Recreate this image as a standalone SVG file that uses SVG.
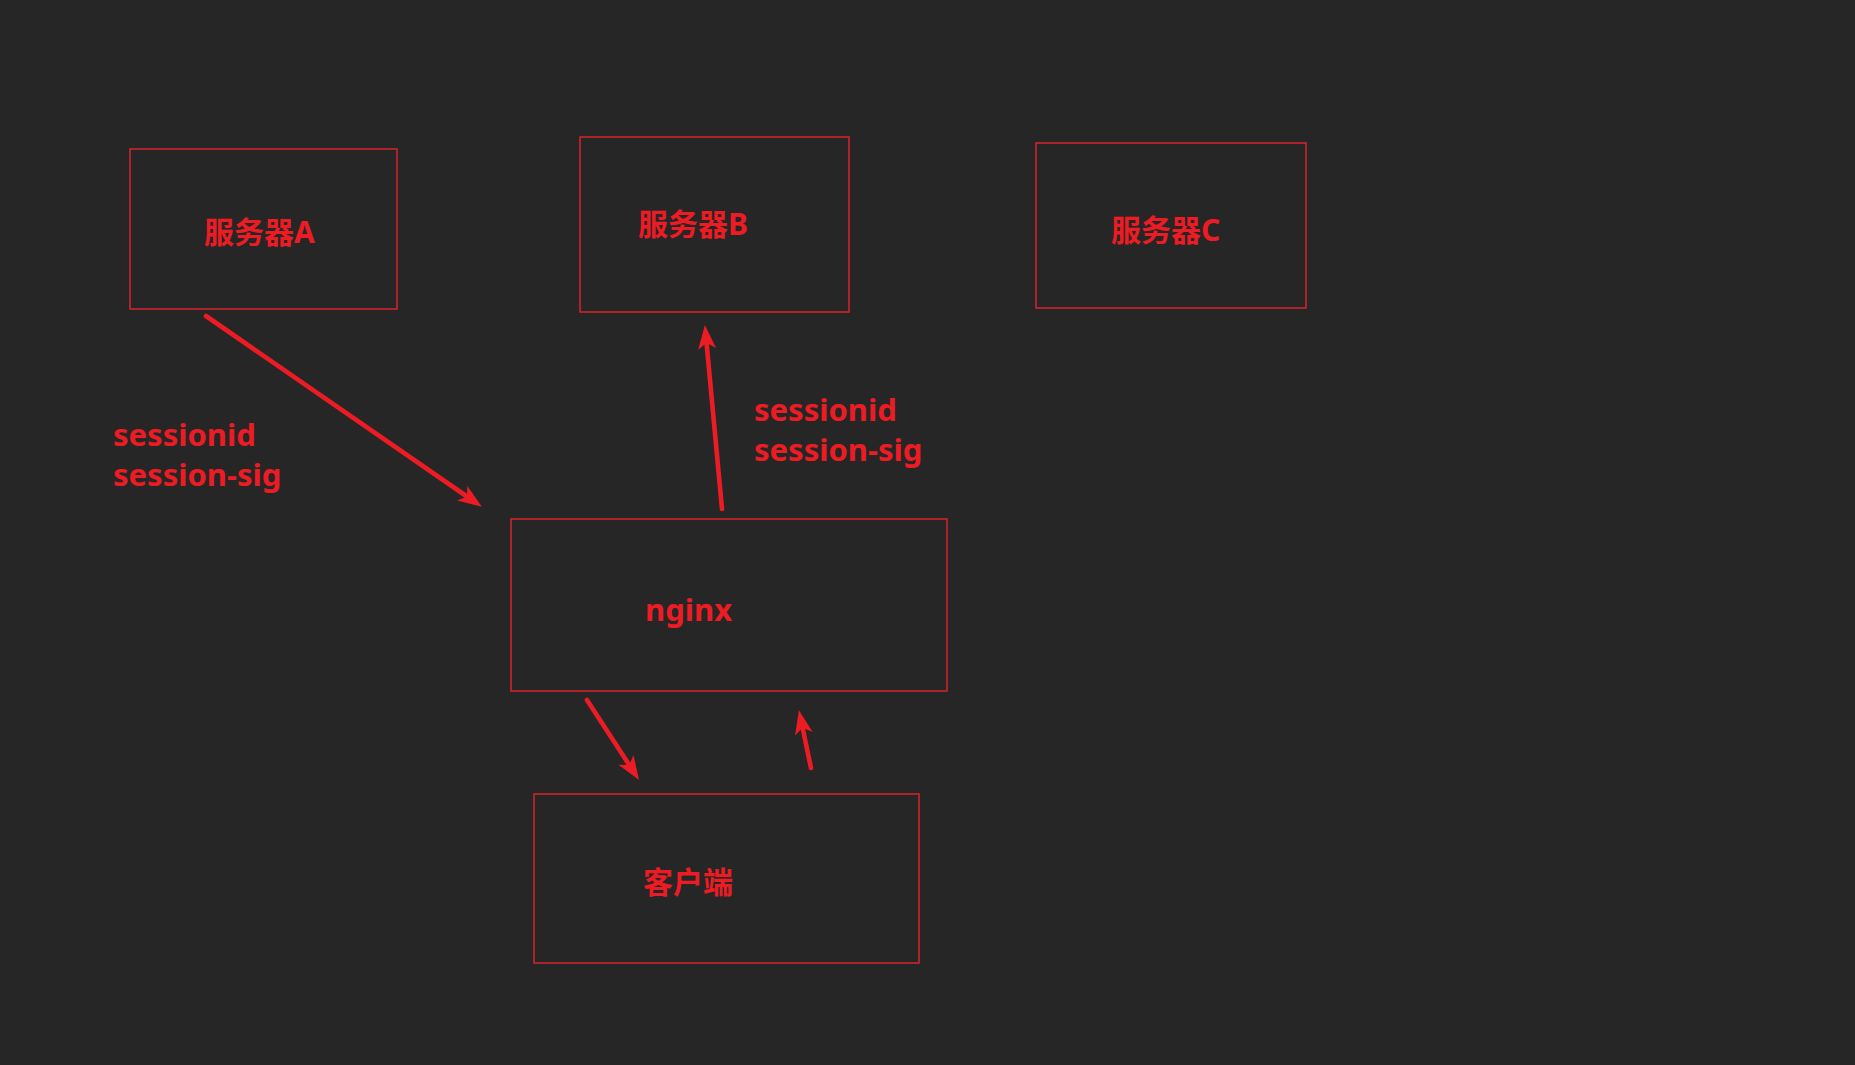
<svg xmlns="http://www.w3.org/2000/svg" width="1855" height="1065" viewBox="0 0 1855 1065">
<defs>
<style>
.box{fill:none;stroke:#e3242b;stroke-width:1.4}
.lbl{fill:#ec1c24;font-family:"Noto Sans","Noto Sans CJK SC",sans-serif;font-weight:bold;font-size:30px}
.big{font-size:31px}
.arr{stroke:#ec1c24;stroke-width:4.6;stroke-linecap:round;fill:none;marker-end:url(#ah)}
</style>
<marker id="ah" viewBox="0 -10 26 20" refX="12" refY="0" markerWidth="26" markerHeight="20" markerUnits="userSpaceOnUse" orient="auto">
<path d="M0,-9 L24,0 L0,9 L6,0 Z" fill="#ec1c24"/>
</marker>
</defs>
<rect width="1855" height="1065" fill="#262626"/>
<g id="serverA">
<rect class="box" x="130" y="149" width="267" height="160"/>
<text class="lbl" x="204" y="243">服务器A</text>
</g>
<g id="serverB">
<rect class="box" x="580" y="137" width="269" height="175"/>
<text class="lbl" x="638" y="235">服务器B</text>
</g>
<g id="serverC">
<rect class="box" x="1036" y="143" width="270" height="165"/>
<text class="lbl" x="1111" y="241">服务器C</text>
</g>
<g id="nginx">
<rect class="box" x="511" y="519" width="436" height="172"/>
<text class="lbl big" x="645" y="621">nginx</text>
</g>
<g id="client">
<rect class="box" x="534" y="794" width="385" height="169"/>
<text class="lbl" x="643" y="893">客户端</text>
</g>
<g id="labels">
<text class="lbl big" x="113" y="446">sessionid</text>
<text class="lbl big" x="113" y="486">session-sig</text>
<text class="lbl big" x="754" y="421">sessionid</text>
<text class="lbl big" x="754" y="461">session-sig</text>
</g>
<g id="connectors">
<line class="arr" x1="206" y1="316" x2="472" y2="500"/>
<line class="arr" x1="722" y1="509" x2="706" y2="337"/>
<line class="arr" x1="587" y1="700" x2="632.5" y2="770"/>
<line class="arr" x1="811" y1="768" x2="801.4" y2="722"/>
</g>
</svg>
